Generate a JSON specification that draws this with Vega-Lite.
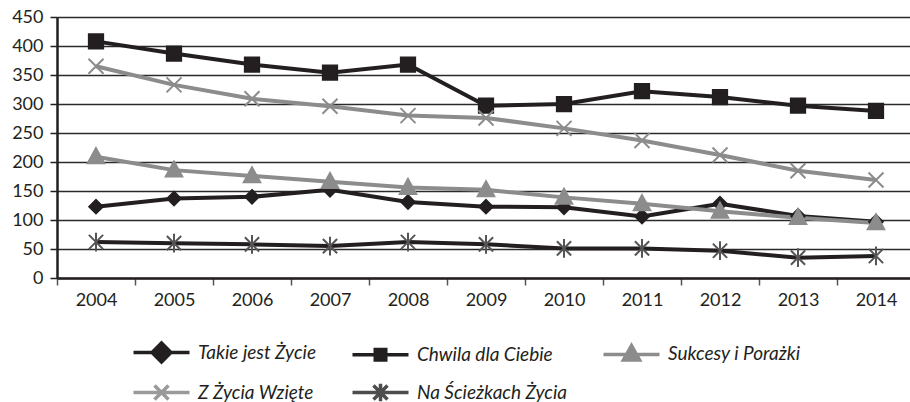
{
  "$schema": "https://vega.github.io/schema/vega-lite/v6.json",
  "width": 853,
  "height": 261,
  "autosize": {"type": "none"},
  "padding": {"left": 57, "top": 17, "right": 0, "bottom": 124},
  "background": "white",
  "config": {
    "view": {"stroke": null},
    "font": "Lato",
    "axis": {"labelFont": "Lato", "labelFontSize": 18, "labelColor": "#231f20"}
  },
  "data": {
    "values": [
      {"year": "2004", "series": "Takie jest Życie", "value": 123},
      {"year": "2005", "series": "Takie jest Życie", "value": 137},
      {"year": "2006", "series": "Takie jest Życie", "value": 140},
      {"year": "2007", "series": "Takie jest Życie", "value": 152},
      {"year": "2008", "series": "Takie jest Życie", "value": 131},
      {"year": "2009", "series": "Takie jest Życie", "value": 123},
      {"year": "2010", "series": "Takie jest Życie", "value": 122},
      {"year": "2011", "series": "Takie jest Życie", "value": 106},
      {"year": "2012", "series": "Takie jest Życie", "value": 128},
      {"year": "2013", "series": "Takie jest Życie", "value": 107},
      {"year": "2014", "series": "Takie jest Życie", "value": 97},
      {"year": "2004", "series": "Chwila dla Ciebie", "value": 408},
      {"year": "2005", "series": "Chwila dla Ciebie", "value": 387},
      {"year": "2006", "series": "Chwila dla Ciebie", "value": 368},
      {"year": "2007", "series": "Chwila dla Ciebie", "value": 354},
      {"year": "2008", "series": "Chwila dla Ciebie", "value": 368},
      {"year": "2009", "series": "Chwila dla Ciebie", "value": 297},
      {"year": "2010", "series": "Chwila dla Ciebie", "value": 300},
      {"year": "2011", "series": "Chwila dla Ciebie", "value": 322},
      {"year": "2012", "series": "Chwila dla Ciebie", "value": 312},
      {"year": "2013", "series": "Chwila dla Ciebie", "value": 297},
      {"year": "2014", "series": "Chwila dla Ciebie", "value": 288},
      {"year": "2004", "series": "Sukcesy i Porażki", "value": 209},
      {"year": "2005", "series": "Sukcesy i Porażki", "value": 186},
      {"year": "2006", "series": "Sukcesy i Porażki", "value": 176},
      {"year": "2007", "series": "Sukcesy i Porażki", "value": 166},
      {"year": "2008", "series": "Sukcesy i Porażki", "value": 156},
      {"year": "2009", "series": "Sukcesy i Porażki", "value": 152},
      {"year": "2010", "series": "Sukcesy i Porażki", "value": 139},
      {"year": "2011", "series": "Sukcesy i Porażki", "value": 128},
      {"year": "2012", "series": "Sukcesy i Porażki", "value": 115},
      {"year": "2013", "series": "Sukcesy i Porażki", "value": 104},
      {"year": "2014", "series": "Sukcesy i Porażki", "value": 95},
      {"year": "2004", "series": "Z Życia Wzięte", "value": 365},
      {"year": "2005", "series": "Z Życia Wzięte", "value": 333},
      {"year": "2006", "series": "Z Życia Wzięte", "value": 309},
      {"year": "2007", "series": "Z Życia Wzięte", "value": 296},
      {"year": "2008", "series": "Z Życia Wzięte", "value": 280},
      {"year": "2009", "series": "Z Życia Wzięte", "value": 276},
      {"year": "2010", "series": "Z Życia Wzięte", "value": 258},
      {"year": "2011", "series": "Z Życia Wzięte", "value": 237},
      {"year": "2012", "series": "Z Życia Wzięte", "value": 212},
      {"year": "2013", "series": "Z Życia Wzięte", "value": 185},
      {"year": "2014", "series": "Z Życia Wzięte", "value": 169},
      {"year": "2004", "series": "Na Ścieżkach Życia", "value": 62},
      {"year": "2005", "series": "Na Ścieżkach Życia", "value": 60},
      {"year": "2006", "series": "Na Ścieżkach Życia", "value": 58},
      {"year": "2007", "series": "Na Ścieżkach Życia", "value": 55},
      {"year": "2008", "series": "Na Ścieżkach Życia", "value": 62},
      {"year": "2009", "series": "Na Ścieżkach Życia", "value": 58},
      {"year": "2010", "series": "Na Ścieżkach Życia", "value": 51},
      {"year": "2011", "series": "Na Ścieżkach Życia", "value": 51},
      {"year": "2012", "series": "Na Ścieżkach Życia", "value": 47},
      {"year": "2013", "series": "Na Ścieżkach Życia", "value": 35},
      {"year": "2014", "series": "Na Ścieżkach Życia", "value": 38}
    ]
  },
  "encoding": {
    "x": {
      "field": "year",
      "type": "ordinal",
      "scale": {"type": "band", "paddingInner": 0, "paddingOuter": 0, "range": [0, 858]},
      "axis": {
        "title": null,
        "labelAngle": 0,
        "tickBand": "extent",
        "tickSize": 7,
        "tickColor": "#555555",
        "tickWidth": 1.5,
        "domainColor": "#231f20",
        "domainWidth": 2.5,
        "labelPadding": 6,
        "grid": false
      }
    },
    "y": {
      "field": "value",
      "type": "quantitative",
      "scale": {"domain": [0, 450], "nice": false, "zero": true},
      "axis": {
        "title": null,
        "values": [0, 50, 100, 150, 200, 250, 300, 350, 400, 450],
        "tickSize": 7,
        "tickColor": "#231f20",
        "tickWidth": 1.5,
        "domainColor": "#231f20",
        "domainWidth": 2.5,
        "labelPadding": 7,
        "grid": true,
        "gridColor": "#2a2a2a",
        "gridWidth": 1.6
      }
    }
  },
  "resolve": {"scale": {"shape": "independent", "fill": "independent", "stroke": "independent"}},
  "layer": [
    {
      "mark": {"type": "line", "strokeWidth": 4},
      "encoding": {
        "color": {
          "field": "series",
          "type": "nominal",
          "scale": {
            "domain": ["Na Ścieżkach Życia", "Takie jest Życie", "Chwila dla Ciebie", "Sukcesy i Porażki", "Z Życia Wzięte"],
            "range": ["#231f20", "#231f20", "#231f20", "#8c8c8c", "#8c8c8c"]
          },
          "legend": null
        }
      }
    },
    {
      "mark": {"type": "point", "size": 225, "strokeWidth": 2, "opacity": 1},
      "encoding": {
        "shape": {
          "field": "series",
          "type": "nominal",
          "scale": {
            "domain": ["Takie jest Życie", "Chwila dla Ciebie", "Sukcesy i Porażki", "Z Życia Wzięte", "Na Ścieżkach Życia"],
            "range": [
              "M0,-0.9L0.9,0L0,0.9L-0.9,0Z",
              "M-0.95,-0.95H0.95V0.95H-0.95Z",
              "M0,-1.15L1.1,0.85H-1.1Z",
              "M-1,-1L1,1M-1,1L1,-1",
              "M-0.95,-0.95L0.95,0.95M-0.95,0.95L0.95,-0.95M0,-1.25V1.25"
            ]
          },
          "legend": null
        },
        "fill": {
          "field": "series",
          "type": "nominal",
          "scale": {
            "domain": ["Takie jest Życie", "Chwila dla Ciebie", "Sukcesy i Porażki", "Z Życia Wzięte", "Na Ścieżkach Życia"],
            "range": ["#231f20", "#231f20", "#8c8c8c", "transparent", "transparent"]
          },
          "legend": null
        },
        "stroke": {
          "field": "series",
          "type": "nominal",
          "scale": {
            "domain": ["Takie jest Życie", "Chwila dla Ciebie", "Sukcesy i Porażki", "Z Życia Wzięte", "Na Ścieżkach Życia"],
            "range": ["#231f20", "#231f20", "#8c8c8c", "#8c8c8c", "#555555"]
          },
          "legend": null
        }
      }
    },
    {
      "mark": {"type": "point", "size": 196, "strokeWidth": 3.5, "opacity": 0},
      "encoding": {
        "shape": {
          "field": "series",
          "type": "nominal",
          "scale": {
            "domain": ["Takie jest Życie", "Chwila dla Ciebie", "Sukcesy i Porażki", "Z Życia Wzięte", "Na Ścieżkach Życia"],
            "range": [
              "M-1,0H7M3,-1.35L4.35,0L3,1.35L1.65,0Z",
              "M-1,0H7M2.25,-0.75H3.75V0.75H2.25Z",
              "M-1,0H7M3,-1.25L4.15,0.8H1.85Z",
              "M-1,0H7M2,-1L4,1M2,1L4,-1",
              "M-1,0H7M2,-1L4,1M2,1L4,-1M3,-1.25V1.25"
            ]
          },
          "legend": {
            "title": null,
            "orient": "none",
            "legendX": 74,
            "legendY": 326,
            "direction": "horizontal",
            "columns": 3,
            "columnPadding": 28,
            "rowPadding": 7,
            "symbolSize": 196,
            "symbolOpacity": 1,
            "symbolStrokeWidth": 3.5,
            "labelFont": "Lato",
            "labelFontSize": 19,
            "labelFontStyle": "italic",
            "labelColor": "#231f20",
            "labelLimit": 400,
            "labelOffset": 48
          }
        },
        "fill": {
          "field": "series",
          "type": "nominal",
          "scale": {
            "domain": ["Takie jest Życie", "Chwila dla Ciebie", "Sukcesy i Porażki", "Z Życia Wzięte", "Na Ścieżkach Życia"],
            "range": ["#231f20", "#231f20", "#8c8c8c", "transparent", "transparent"]
          }
        },
        "stroke": {
          "field": "series",
          "type": "nominal",
          "scale": {
            "domain": ["Takie jest Życie", "Chwila dla Ciebie", "Sukcesy i Porażki", "Z Życia Wzięte", "Na Ścieżkach Życia"],
            "range": ["#231f20", "#231f20", "#8c8c8c", "#9a9a9a", "#4d4d4d"]
          }
        }
      }
    }
  ]
}
